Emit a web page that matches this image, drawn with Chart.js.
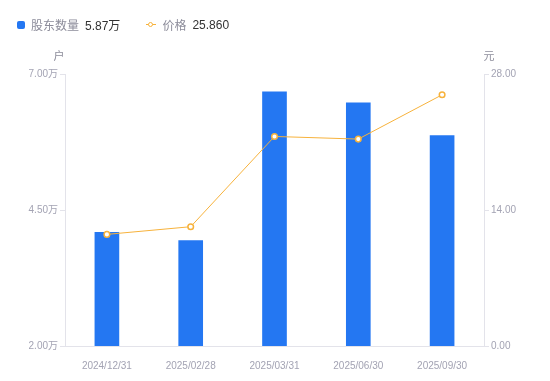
<!DOCTYPE html>
<html>
<head>
<meta charset="utf-8">
<script src="https://cdn.jsdelivr.net/npm/chart.js@4.4.0/dist/chart.umd.min.js"></script>
<style>
  html, body { margin: 0; padding: 0; background: #fff; }
  #wrap { position: relative; width: 550px; height: 381px; font-family: "Liberation Sans", Arial, "Noto Sans CJK SC", sans-serif; }
  #legend { position: absolute; left: 17px; top: 16px; font-size: 12px; display: flex; align-items: center; }
  .lg-item { display: flex; align-items: center; margin-right: 26px; }
  .lg-box { width: 8px; height: 8px; border-radius: 2px; background: #2477f2; margin-right: 6px; }
  .lg-line { position: relative; width: 10px; height: 10px; margin-right: 6px; }
  .lg-line:before { content: ''; position: absolute; left: 0; right: 0; top: 4.5px; height: 1px; background: #f7b23b; }
  .lg-line:after { content: ''; position: absolute; left: 2px; top: 2px; width: 3px; height: 3px; border: 1.5px solid #f7b23b; border-radius: 50%; background: #fff; }
  .lg-name { color: #8c8c9a; margin-right: 6px; }
  .lg-val { color: #333; }
  canvas { position: absolute; left: 0; top: 0; }
</style>
</head>
<body>
<div id="wrap">
  <canvas id="c" width="550" height="381"></canvas>
  <div id="legend"></div>
</div>
<script>
const categories = ['2024/12/31', '2025/02/28', '2025/03/31', '2025/06/30', '2025/09/30'];
const holders = [4.09, 3.94, 6.67, 6.47, 5.87];      // 股东数量 (万户)
const prices = [11.49, 12.28, 21.57, 21.30, 25.86];  // 价格 (元)
const leftTicks = [2.0, 4.5, 7.0];
const rightTicks = [0, 14, 28];

const BLUE = '#2477f2';
const ORANGE = '#f7b23b';
const GRAY = '#a3a3b3';
const AXIS = '#e3e3ea';

document.getElementById('legend').innerHTML = `
  <div class="lg-item"><span class="lg-box"></span><span class="lg-name">股东数量</span><span class="lg-val">${holders[holders.length - 1].toFixed(2)}万</span></div>
  <div class="lg-item"><span class="lg-line"></span><span class="lg-name">价格</span><span class="lg-val">${prices[prices.length - 1].toFixed(3)}</span></div>`;

const unitTitles = {
  id: 'unitTitles',
  afterDraw(chart) {
    const { ctx, chartArea } = chart;
    ctx.save();
    ctx.font = '11px "Liberation Sans", "Noto Sans CJK SC", sans-serif';
    ctx.fillStyle = '#8c8c9a';
    ctx.textBaseline = 'middle';
    ctx.textAlign = 'center';
    ctx.fillText('户', chartArea.left - 6, 57);
    ctx.fillText('元', chartArea.right + 5, 57);
    ctx.restore();
  }
};

const tickFont = { family: '"Liberation Sans", Arial, "Noto Sans CJK SC", sans-serif', size: 10 };

new Chart(document.getElementById('c'), {
  data: {
    labels: categories,
    datasets: [
      {
        type: 'line', label: '价格', data: prices, yAxisID: 'y1', order: 0,
        borderColor: ORANGE, borderWidth: 1, tension: 0,
        pointRadius: 2.8, pointBackgroundColor: '#fff', pointBorderColor: ORANGE, pointBorderWidth: 1.5
      },
      {
        type: 'bar', label: '股东数量', data: holders, yAxisID: 'y', order: 1,
        backgroundColor: BLUE, barThickness: 24
      }
    ]
  },
  options: {
    responsive: false, animation: false,
    layout: { padding: { top: 74, left: 0, right: 0, bottom: 0 } },
    plugins: { legend: { display: false }, tooltip: { enabled: false } },
    scales: {
      x: {
        offset: true,
        grid: { display: false },
        border: { display: true, color: AXIS },
        ticks: { color: GRAY, font: tickFont, padding: 6, maxRotation: 0 },
        afterFit(s) { s.height = 35; }
      },
      y: {
        position: 'left', min: 2, max: 7,
        afterBuildTicks(s) { s.ticks = leftTicks.map(v => ({ value: v })); },
        grid: { drawOnChartArea: false, drawTicks: true, tickLength: 5, color: AXIS },
        border: { display: true, color: AXIS },
        ticks: { color: GRAY, font: tickFont, padding: 2, callback: v => v.toFixed(2) + '万' },
        afterFit(s) { s.width = 65; }
      },
      y1: {
        position: 'right', min: 0, max: 28,
        afterBuildTicks(s) { s.ticks = rightTicks.map(v => ({ value: v })); },
        grid: { drawOnChartArea: false, drawTicks: true, tickLength: 5, color: AXIS },
        border: { display: true, color: AXIS },
        ticks: { color: GRAY, font: tickFont, padding: 2, callback: v => v.toFixed(2) },
        afterFit(s) { s.width = 66; }
      }
    }
  },
  plugins: [unitTitles]
});
</script>
</body>
</html>
